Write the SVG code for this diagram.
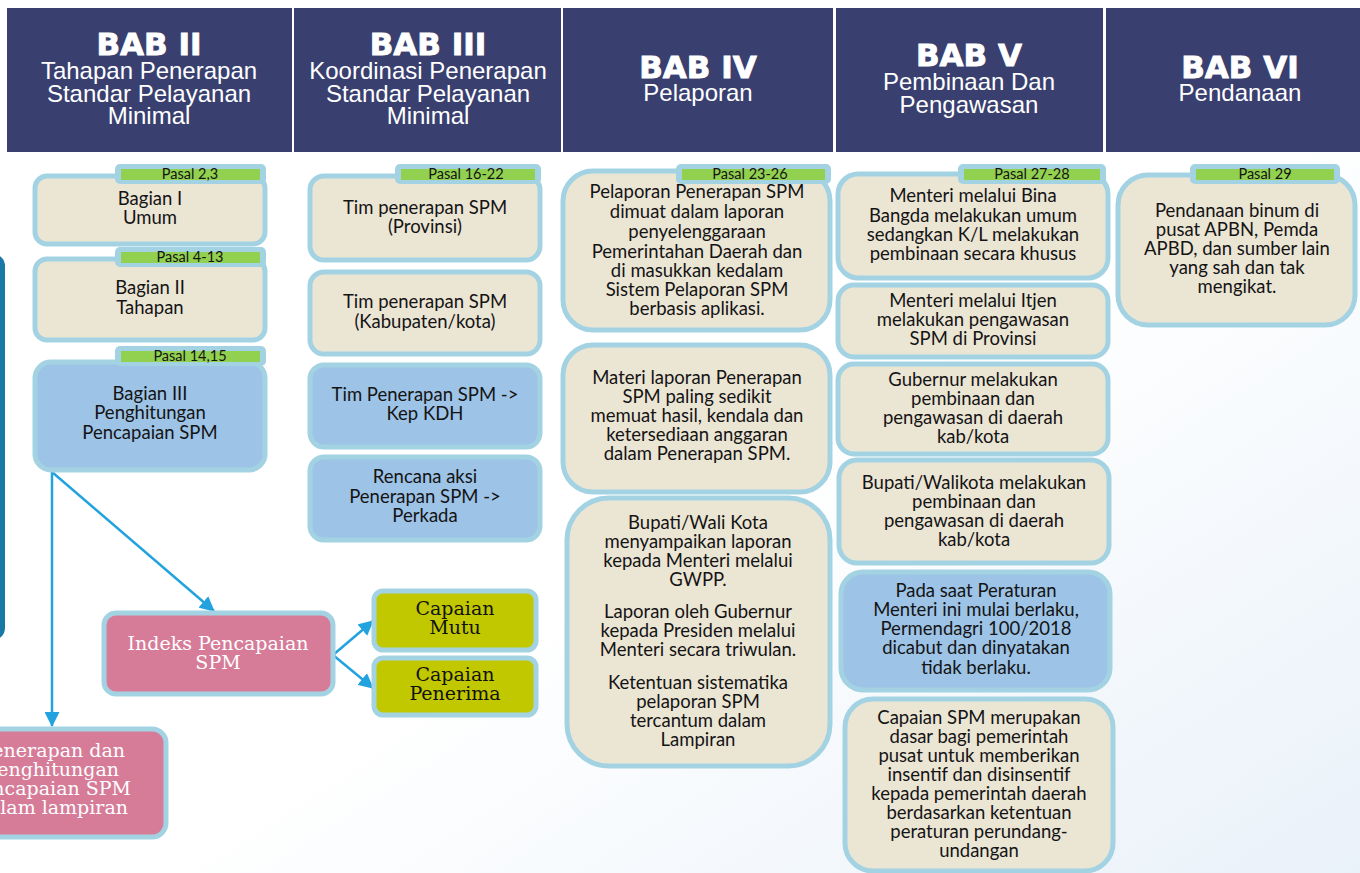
<svg xmlns="http://www.w3.org/2000/svg" width="1360" height="873" viewBox="0 0 1360 873">
  <defs>
    <linearGradient id="bg" x1="0" y1="0" x2="1" y2="1">
      <stop offset="0" stop-color="#ffffff"/>
      <stop offset="0.55" stop-color="#ffffff"/>
      <stop offset="1" stop-color="#e9f1f9"/>
    </linearGradient>
    <marker id="arr" viewBox="0 0 15 15" refX="14" refY="7.5" markerWidth="15" markerHeight="15" markerUnits="userSpaceOnUse" orient="auto">
      <path d="M0,0 L15,7.5 L0,15 z" fill="#22a3df"/>
    </marker>
    <style>
      .hdr { fill: #39406f; }
      .t1 { font-family: "DejaVu Sans", sans-serif; font-weight: bold; font-size: 31px; fill: #ffffff; stroke: #ffffff; stroke-width: 0.9; text-anchor: middle; }
      .t2 { font-family: "Liberation Sans", Arial, sans-serif; font-size: 24px; fill: #ffffff; text-anchor: middle; }
      .box { stroke: #a3d3e3; stroke-width: 5; }
      .beige { fill: #ebe5d4; }
      .blue { fill: #9dc3e6; }
      .pink { fill: #d67c99; }
      .lime { fill: #c1c800; }
      .tag { fill: #a3d3e3; }
      .tagin { fill: #92d050; }
      .tx { font-family: Lato, "Open Sans", sans-serif; font-size: 18.5px; fill: #141414; text-anchor: middle; }
      .tg { font-family: Lato, "Open Sans", sans-serif; font-size: 14.5px; fill: #141414; text-anchor: middle; }
      .sf { font-family: "DejaVu Serif", serif; font-size: 19px; text-anchor: middle; }
      .sfe { text-anchor: end; }
      .sfw { fill: #ffffff; }
      .sfb { fill: #111111; }
      .conn { stroke: #22a3df; stroke-width: 2.5; fill: none; marker-end: url(#arr); }
    </style>
  </defs>

  <rect x="0" y="0" width="1360" height="873" fill="url(#bg)"/>

  <!-- chapter headers -->
  <g id="hdr-bab2">
    <rect class="hdr" x="7" y="8" width="285" height="144"/>
    <text class="t1" x="149" y="55">BAB II</text>
    <text class="t2" x="149" y="79">Tahapan Penerapan</text>
    <text class="t2" x="149" y="102">Standar Pelayanan</text>
    <text class="t2" x="149" y="124">Minimal</text>
  </g>
  <g id="hdr-bab3">
    <rect class="hdr" x="294" y="8" width="267" height="144"/>
    <text class="t1" x="428" y="55">BAB III</text>
    <text class="t2" x="428" y="79">Koordinasi Penerapan</text>
    <text class="t2" x="428" y="102">Standar Pelayanan</text>
    <text class="t2" x="428" y="124">Minimal</text>
  </g>
  <g id="hdr-bab4">
    <rect class="hdr" x="563" y="8" width="270" height="144"/>
    <text class="t1" x="698" y="78">BAB IV</text>
    <text class="t2" x="698" y="101">Pelaporan</text>
  </g>
  <g id="hdr-bab5">
    <rect class="hdr" x="836" y="8" width="267" height="144"/>
    <text class="t1" x="969" y="66">BAB V</text>
    <text class="t2" x="969" y="90">Pembinaan Dan</text>
    <text class="t2" x="969" y="113">Pengawasan</text>
  </g>
  <g id="hdr-bab6">
    <rect class="hdr" x="1106" y="8" width="254" height="144"/>
    <text class="t1" x="1240" y="78">BAB VI</text>
    <text class="t2" x="1240" y="101">Pendanaan</text>
  </g>

  <!-- panel at the left margin -->
  <g id="side-panel">
    <rect x="-30" y="254" width="35" height="386" rx="12" fill="#1878a6"/>
  </g>

  <!-- connectors -->
  <g id="connectors">
    <line class="conn" x1="52" y1="472" x2="214" y2="611"/>
    <line class="conn" x1="52" y1="472" x2="52" y2="726"/>
    <line class="conn" x1="333" y1="655" x2="373" y2="621"/>
    <line class="conn" x1="333" y1="655" x2="373" y2="688"/>
  </g>

  <!-- BAB II -->
  <g id="bagian-1">
    <rect class="box beige" x="35" y="176" width="230" height="68" rx="12"/>
    <rect class="tag" x="115" y="164" width="151" height="20" rx="5"/>
    <rect class="tagin" x="121" y="169" width="139" height="11"/>
    <text class="tg" x="190" y="179">Pasal 2,3</text>
    <text class="tx" x="150" y="205">Bagian I</text>
    <text class="tx" x="150" y="224">Umum</text>
  </g>
  <g id="bagian-2">
    <rect class="box beige" x="35" y="259" width="230" height="81" rx="12"/>
    <rect class="tag" x="115" y="247" width="151" height="20" rx="5"/>
    <rect class="tagin" x="121" y="252" width="139" height="11"/>
    <text class="tg" x="190" y="262">Pasal 4-13</text>
    <text class="tx" x="150" y="294">Bagian II</text>
    <text class="tx" x="150" y="314">Tahapan</text>
  </g>
  <g id="bagian-3">
    <rect class="box blue" x="35" y="362" width="230" height="108" rx="16"/>
    <rect class="tag" x="115" y="346" width="151" height="20" rx="5"/>
    <rect class="tagin" x="121" y="351" width="139" height="11"/>
    <text class="tg" x="190" y="361">Pasal 14,15</text>
    <text class="tx" x="150" y="400">Bagian III</text>
    <text class="tx" x="150" y="419">Penghitungan</text>
    <text class="tx" x="150" y="439">Pencapaian SPM</text>
  </g>

  <g id="indeks">
    <rect class="box pink" x="104" y="613" width="229" height="81" rx="12"/>
    <text class="sf sfw" x="218" y="650">Indeks Pencapaian</text>
    <text class="sf sfw" x="218" y="669">SPM</text>
  </g>
  <g id="capaian-mutu">
    <rect class="box lime" x="374" y="591" width="162" height="59" rx="9"/>
    <text class="sf sfb" x="455" y="615">Capaian</text>
    <text class="sf sfb" x="455" y="634">Mutu</text>
  </g>
  <g id="capaian-penerima">
    <rect class="box lime" x="374" y="658" width="162" height="57" rx="9"/>
    <text class="sf sfb" x="455" y="681">Capaian</text>
    <text class="sf sfb" x="455" y="700">Penerima</text>
  </g>
  <g id="lampiran">
    <rect class="box pink" x="-20" y="729" width="186" height="108" rx="14"/>
    <text class="sf sfe sfw" x="125" y="757">Penerapan dan</text>
    <text class="sf sfe sfw" x="119" y="776">Penghitungan</text>
    <text class="sf sfe sfw" x="131" y="795">Pencapaian SPM</text>
    <text class="sf sfe sfw" x="128" y="814">dalam lampiran</text>
  </g>

  <!-- BAB III -->
  <g id="tim-provinsi">
    <rect class="box beige" x="310" y="176" width="230" height="84" rx="14"/>
    <rect class="tag" x="395" y="164" width="146" height="20" rx="5"/>
    <rect class="tagin" x="401" y="169" width="134" height="11"/>
    <text class="tg" x="466" y="179">Pasal 16-22</text>
    <text class="tx" x="425" y="214">Tim penerapan SPM</text>
    <text class="tx" x="425" y="233">(Provinsi)</text>
  </g>
  <g id="tim-kabkota">
    <rect class="box beige" x="310" y="272" width="230" height="82" rx="14"/>
    <text class="tx" x="425" y="308">Tim penerapan SPM</text>
    <text class="tx" x="425" y="328">(Kabupaten/kota)</text>
  </g>
  <g id="tim-kdh">
    <rect class="box blue" x="310" y="365" width="230" height="82" rx="14"/>
    <text class="tx" x="425" y="401">Tim Penerapan SPM -&gt;</text>
    <text class="tx" x="425" y="420">Kep KDH</text>
  </g>
  <g id="rencana-aksi">
    <rect class="box blue" x="310" y="457" width="230" height="83" rx="14"/>
    <text class="tx" x="425" y="483">Rencana aksi</text>
    <text class="tx" x="425" y="503">Penerapan SPM -&gt;</text>
    <text class="tx" x="425" y="522">Perkada</text>
  </g>

  <!-- BAB IV -->
  <g id="pelaporan-1">
    <rect class="box beige" x="563" y="171" width="267" height="159" rx="30"/>
    <rect class="tag" x="676" y="164" width="155" height="20" rx="5"/>
    <rect class="tagin" x="682" y="169" width="143" height="11"/>
    <text class="tg" x="750" y="179">Pasal 23-26</text>
    <text class="tx" x="697" y="198">Pelaporan Penerapan SPM</text>
    <text class="tx" x="697" y="218">dimuat dalam laporan</text>
    <text class="tx" x="697" y="238">penyelenggaraan</text>
    <text class="tx" x="697" y="258">Pemerintahan Daerah dan</text>
    <text class="tx" x="697" y="277">di masukkan kedalam</text>
    <text class="tx" x="697" y="296">Sistem Pelaporan SPM</text>
    <text class="tx" x="697" y="315">berbasis aplikasi.</text>
  </g>
  <g id="pelaporan-2">
    <rect class="box beige" x="563" y="345" width="267" height="147" rx="30"/>
    <text class="tx" x="697" y="384">Materi laporan Penerapan</text>
    <text class="tx" x="697" y="403">SPM paling sedikit</text>
    <text class="tx" x="697" y="422">memuat hasil, kendala dan</text>
    <text class="tx" x="697" y="441">ketersediaan anggaran</text>
    <text class="tx" x="697" y="460">dalam Penerapan SPM.</text>
  </g>
  <g id="pelaporan-3">
    <rect class="box beige" x="567" y="498" width="263" height="268" rx="42"/>
    <text class="tx" x="698" y="529">Bupati/Wali Kota</text>
    <text class="tx" x="698" y="548">menyampaikan laporan</text>
    <text class="tx" x="698" y="567">kepada Menteri melalui</text>
    <text class="tx" x="698" y="586">GWPP.</text>
    <text class="tx" x="698" y="618">Laporan oleh Gubernur</text>
    <text class="tx" x="698" y="637">kepada Presiden melalui</text>
    <text class="tx" x="698" y="656">Menteri secara triwulan.</text>
    <text class="tx" x="698" y="689">Ketentuan sistematika</text>
    <text class="tx" x="698" y="708">pelaporan SPM</text>
    <text class="tx" x="698" y="727">tercantum dalam</text>
    <text class="tx" x="698" y="746">Lampiran</text>
  </g>

  <!-- BAB V -->
  <g id="pembinaan-1">
    <rect class="box beige" x="838" y="174" width="270" height="104" rx="20"/>
    <rect class="tag" x="958" y="164" width="148" height="20" rx="5"/>
    <rect class="tagin" x="964" y="169" width="136" height="11"/>
    <text class="tg" x="1032" y="179">Pasal 27-28</text>
    <text class="tx" x="973" y="202">Menteri melalui Bina</text>
    <text class="tx" x="973" y="222">Bangda melakukan umum</text>
    <text class="tx" x="973" y="241">sedangkan K/L melakukan</text>
    <text class="tx" x="973" y="260">pembinaan secara khusus</text>
  </g>
  <g id="pembinaan-2">
    <rect class="box beige" x="838" y="285" width="270" height="72" rx="16"/>
    <text class="tx" x="973" y="307">Menteri melalui Itjen</text>
    <text class="tx" x="973" y="326">melakukan pengawasan</text>
    <text class="tx" x="973" y="345">SPM di Provinsi</text>
  </g>
  <g id="pembinaan-3">
    <rect class="box beige" x="838" y="364" width="270" height="90" rx="16"/>
    <text class="tx" x="973" y="386">Gubernur melakukan</text>
    <text class="tx" x="973" y="405">pembinaan dan</text>
    <text class="tx" x="973" y="424">pengawasan di daerah</text>
    <text class="tx" x="973" y="443">kab/kota</text>
  </g>
  <g id="pembinaan-4">
    <rect class="box beige" x="839" y="460" width="270" height="103" rx="18"/>
    <text class="tx" x="974" y="489">Bupati/Walikota melakukan</text>
    <text class="tx" x="974" y="508">pembinaan dan</text>
    <text class="tx" x="974" y="527">pengawasan di daerah</text>
    <text class="tx" x="974" y="546">kab/kota</text>
  </g>
  <g id="pencabutan">
    <rect class="box blue" x="841" y="572" width="269" height="118" rx="22"/>
    <text class="tx" x="976" y="597">Pada saat Peraturan</text>
    <text class="tx" x="976" y="616">Menteri ini mulai berlaku,</text>
    <text class="tx" x="976" y="635">Permendagri 100/2018</text>
    <text class="tx" x="976" y="654">dicabut dan dinyatakan</text>
    <text class="tx" x="976" y="674">tidak berlaku.</text>
  </g>
  <g id="insentif">
    <rect class="box beige" x="845" y="699" width="268" height="172" rx="28"/>
    <text class="tx" x="979" y="724">Capaian SPM merupakan</text>
    <text class="tx" x="979" y="743">dasar bagi pemerintah</text>
    <text class="tx" x="979" y="762">pusat untuk memberikan</text>
    <text class="tx" x="979" y="781">insentif dan disinsentif</text>
    <text class="tx" x="979" y="800">kepada pemerintah daerah</text>
    <text class="tx" x="979" y="819">berdasarkan ketentuan</text>
    <text class="tx" x="979" y="838">peraturan perundang-</text>
    <text class="tx" x="979" y="857">undangan</text>
  </g>

  <!-- BAB VI -->
  <g id="pendanaan">
    <rect class="box beige" x="1118" y="175" width="237" height="150" rx="30"/>
    <rect class="tag" x="1190" y="164" width="150" height="20" rx="5"/>
    <rect class="tagin" x="1196" y="169" width="138" height="11"/>
    <text class="tg" x="1265" y="179">Pasal 29</text>
    <text class="tx" x="1237" y="217">Pendanaan binum di</text>
    <text class="tx" x="1237" y="236">pusat APBN, Pemda</text>
    <text class="tx" x="1237" y="255">APBD, dan sumber lain</text>
    <text class="tx" x="1237" y="274">yang sah dan tak</text>
    <text class="tx" x="1237" y="293">mengikat.</text>
  </g>
</svg>
